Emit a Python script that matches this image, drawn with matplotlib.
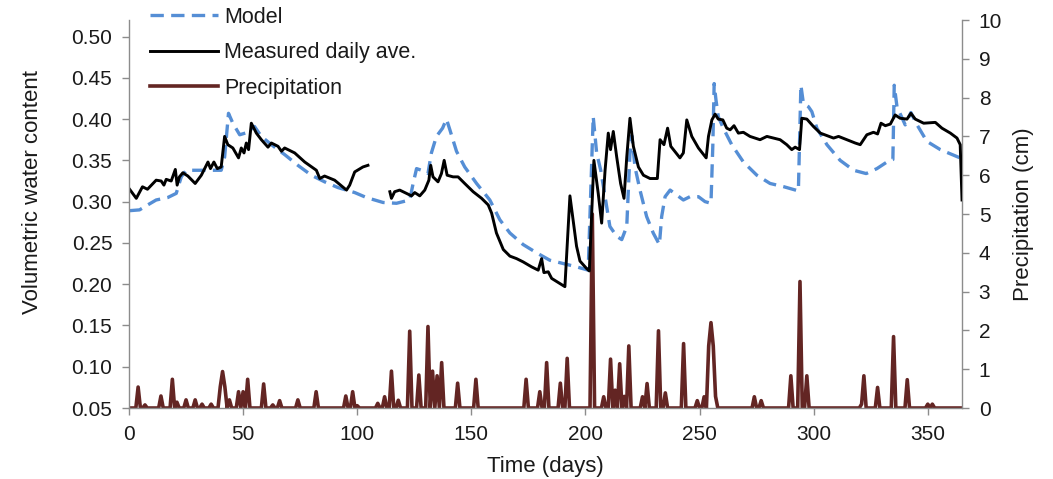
import numpy as np
import matplotlib
matplotlib.use("Agg")
import matplotlib.pyplot as plt

plt.rcParams['font.family'] = ['Liberation Sans', 'DejaVu Sans']

# measured daily average volumetric water content (gap ~105-114 days)
meas_day = [0, 3.2, 5.9, 8.1, 11.9, 14.1, 15.3, 16.3, 18.5, 20.3, 21.1, 22.1, 23.6, 25.8, 29, 31.7,
            34.6, 35.7, 37.2, 38.7, 40.4, 41.9, 43.3, 45.5, 48, 49.2, 50.4, 51.4, 52.4, 53.6, 55.8,
            58, 60.9, 62.4, 65.3, 66.8, 68.2, 72.6, 77, 82.1, 83.6, 85.7, 90.1, 95.3, 96.7, 98.9,
            102.5, 104.7, 109, 114.3, 115, 116.4, 118.6, 120.8, 123.8, 125.2, 127.4, 129.6, 131.4,
            132.2, 133.2, 135.4, 136.9, 138.1, 139.4, 142, 144.2, 147.1, 150.8, 154.5, 157.4, 158.9,
            161, 164, 166.9, 169.8, 172.7, 176.4, 179.3, 180.8, 181.8, 183.7, 185.2, 188.1, 191,
            193.2, 194.4, 196.1, 197.6, 200.5, 201.7, 203.7, 205.6, 207.1, 208.6, 210, 211, 212.2,
            213.7, 215.4, 216.9, 218.1, 219.5, 221, 223.2, 225.4, 228.3, 231.5, 232.7, 234.4, 236,
            237.4, 241.4, 242.9, 244.4, 246.6, 249.5, 252.9, 253.9, 255.4, 256.8, 258.2, 260.2,
            261.9, 263.4, 265.1, 267, 269.2, 272.1, 276.5, 279.5, 285.3, 288.2, 290.4, 291.9, 293.8,
            294.8, 297, 299.9, 302.9, 305.8, 308.7, 310.9, 314.6, 318.2, 320.4, 323.3, 326.2, 328,
            329.5, 331.4, 333.6, 335.7, 337.9, 340.9, 342.6, 344.5, 348.2, 353.3, 356.2, 359.9,
            362.8, 364.2, 365]
meas_vwc = [0.316, 0.304, 0.318, 0.315, 0.326, 0.325, 0.320, 0.327, 0.325, 0.339, 0.320, 0.330, 0.335,
            0.331, 0.322, 0.332, 0.348, 0.340, 0.348, 0.340, 0.342, 0.379, 0.369, 0.365, 0.353, 0.365,
            0.359, 0.371, 0.363, 0.395, 0.383, 0.375, 0.366, 0.371, 0.367, 0.361, 0.365, 0.359, 0.348,
            0.338, 0.328, 0.331, 0.326, 0.314, 0.320, 0.336, 0.342, 0.344, np.nan, 0.312, 0.304, 0.312,
            0.314, 0.311, 0.307, 0.311, 0.307, 0.314, 0.326, 0.344, 0.330, 0.324, 0.334, 0.350, 0.332,
            0.330, 0.330, 0.322, 0.312, 0.304, 0.296, 0.286, 0.262, 0.242, 0.234, 0.231, 0.227, 0.221,
            0.217, 0.231, 0.214, 0.215, 0.207, 0.202, 0.197, 0.307, 0.282, 0.246, 0.228, 0.219, 0.216,
            0.350, 0.310, 0.274, 0.338, 0.383, 0.363, 0.385, 0.354, 0.322, 0.304, 0.354, 0.401, 0.367,
            0.342, 0.332, 0.328, 0.328, 0.375, 0.369, 0.389, 0.367, 0.353, 0.359, 0.399, 0.379, 0.365,
            0.353, 0.379, 0.399, 0.406, 0.400, 0.399, 0.389, 0.387, 0.392, 0.383, 0.384, 0.379, 0.375,
            0.379, 0.375, 0.369, 0.363, 0.366, 0.363, 0.401, 0.400, 0.391, 0.383, 0.380, 0.377, 0.379,
            0.375, 0.371, 0.369, 0.381, 0.384, 0.382, 0.395, 0.392, 0.394, 0.405, 0.401, 0.400, 0.407,
            0.400, 0.395, 0.396, 0.389, 0.383, 0.377, 0.369, 0.302]

# model
model_day = [0, 4.6, 8.2, 11.9, 17, 20.7, 22.9, 25.1, 33.1, 40.4, 41.9, 43.6, 45.5, 48.5, 52.1, 55, 58,
             62.4, 68.2, 74, 79.9, 85.7, 91.6, 98.9, 104, 111.3, 117.2, 123, 124.5, 126, 128.2, 131,
             132.5, 134.7, 137.4, 139.1, 140.6, 143.5, 147.1, 152.3, 158.1, 162.5, 166.9, 172.7, 178.6,
             184.4, 190.3, 196.1, 201.2, 203.4, 204.9, 206.7, 208.6, 210.7, 213.7, 215.9, 218.1, 219.5,
             220.3, 221.7, 223.9, 226.8, 229.7, 232.4, 233.4, 234.9, 237.1, 240, 242.9, 245.8, 249.5,
             252.4, 255, 255.8, 256.4, 257.2, 258.2, 260.4, 264.1, 269.2, 275.1, 280.9, 287, 293.3,
             294.4, 295.5, 297.7, 299.2, 301.4, 305.8, 311.6, 317.5, 323, 327.7, 332.1, 334.7, 335.3,
             336.5, 340.1, 342.6, 345.3, 349.6, 355.5, 365]
model_vwc = [0.289, 0.290, 0.296, 0.302, 0.305, 0.310, 0.330, 0.338, 0.338, 0.338, 0.354, 0.407, 0.395,
             0.381, 0.384, 0.391, 0.379, 0.369, 0.357, 0.344, 0.332, 0.324, 0.317, 0.311, 0.305, 0.299,
             0.298, 0.302, 0.322, 0.340, 0.338, 0.334, 0.359, 0.379, 0.389, 0.400, 0.387, 0.361, 0.342,
             0.322, 0.302, 0.278, 0.262, 0.248, 0.238, 0.229, 0.225, 0.221, 0.217, 0.403, 0.359, 0.338,
             0.306, 0.270, 0.258, 0.254, 0.270, 0.359, 0.380, 0.342, 0.314, 0.282, 0.262, 0.248, 0.282,
             0.306, 0.314, 0.308, 0.302, 0.306, 0.306, 0.300, 0.298, 0.367, 0.443, 0.423, 0.403, 0.389,
             0.369, 0.348, 0.332, 0.322, 0.318, 0.313, 0.441, 0.419, 0.415, 0.409, 0.389, 0.369, 0.350,
             0.338, 0.334, 0.340, 0.348, 0.351, 0.441, 0.415, 0.393, 0.408, 0.393, 0.373, 0.363, 0.352]

# precipitation events (day, cm)
rain_day = [4, 7, 14, 19, 21, 25, 29, 32, 36, 40, 41, 42, 44, 48, 50, 52, 59, 63, 66, 74, 82, 95, 98,
            100, 109, 112, 115, 118, 123, 127, 131, 133, 135, 137, 144, 152, 174, 180, 183, 189, 192,
            203, 208, 211, 213, 215, 217, 219, 225, 227, 232, 235, 243, 249, 252, 254, 255, 256, 257,
            274, 277, 290, 294, 297, 321, 322, 328, 335, 341, 350, 352]
rain_cm = [0.54, 0.08, 0.31, 0.74, 0.15, 0.21, 0.21, 0.10, 0.10, 0.55, 0.94, 0.55, 0.21, 0.42, 0.42,
           0.74, 0.62, 0.08, 0.19, 0.21, 0.42, 0.31, 0.42, 0.06, 0.12, 0.29, 0.95, 0.20, 1.98, 0.85,
           2.10, 0.95, 0.83, 1.17, 0.64, 0.74, 0.74, 0.42, 1.17, 0.64, 1.28, 5.0, 0.29, 1.26, 0.46,
           1.14, 0.30, 1.60, 0.29, 0.63, 1.99, 0.39, 1.66, 0.19, 0.29, 1.60, 2.20, 1.60, 0.30, 0.29,
           0.19, 0.83, 3.26, 0.83, 0.10, 0.83, 0.53, 1.84, 0.73, 0.10, 0.10]

days = np.arange(0, 366)
precip = np.zeros(len(days))
precip[rain_day] = rain_cm

gray = '#8c8c8c'
txt = '#1a1a1a'

fig = plt.figure(figsize=(10.53, 4.79), dpi=100)
ax1 = fig.add_axes([0.1225, 0.1482, 0.7911, 0.8100])
ax2 = ax1.twinx()
ax1.set_zorder(ax2.get_zorder() + 1)
ax1.patch.set_visible(False)

ax2.plot(days, precip, color='#632523', lw=2.6, label='Precipitation')
ax1.plot(model_day, model_vwc, color='#558ED5', lw=2.4, dashes=(4, 2.2), label='Model')
ax1.plot(meas_day, meas_vwc, color='black', lw=2.1, label='Measured daily ave.')

ax1.set_xlim(0, 365)
ax1.set_ylim(0.05, 0.52)
ax2.set_ylim(0, 10.0)
ax1.set_xticks(np.arange(0, 351, 50))
ax1.set_yticks(np.arange(0.05, 0.501, 0.05))
ax1.set_yticklabels([f"{v:.2f}" for v in np.arange(0.05, 0.501, 0.05)])
ax2.set_yticks(np.arange(0, 11, 1))

for ax in (ax1, ax2):
    ax.spines['top'].set_visible(False)
    for s in ('left', 'right', 'bottom'):
        ax.spines[s].set_color(gray)
        ax.spines[s].set_linewidth(1.0)
    ax.tick_params(direction='out', length=5, width=1, color=gray, labelsize=15,
                   labelcolor=txt, pad=7)
ax1.spines['right'].set_visible(False)
ax2.spines['left'].set_visible(False)
ax2.spines['bottom'].set_visible(False)

ax1.set_xlabel('Time (days)', fontsize=16, color=txt)
ax1.set_ylabel('Volumetric water content', fontsize=16, color=txt)
ax2.set_ylabel('Precipitation (cm)', fontsize=16, color=txt)
ax1.xaxis.set_label_coords(0.5, -0.124)
ax1.yaxis.set_label_coords(-0.103, 0.557)
ax2.yaxis.set_label_coords(1.061, 0.5)

h1, l1 = ax1.get_legend_handles_labels()
h2, l2 = ax2.get_legend_handles_labels()
leg = ax1.legend(h1 + h2, l1 + l2, loc='upper left', bbox_to_anchor=(148 / 1053, 0.99),
                 bbox_transform=fig.transFigure, frameon=False, fontsize=15.5,
                 handlelength=3.16, handletextpad=0.28, labelspacing=0.67, borderaxespad=0.0,
                 borderpad=0.1)
for t in leg.get_texts():
    t.set_color(txt)

fig.savefig('out.png', dpi=100)
